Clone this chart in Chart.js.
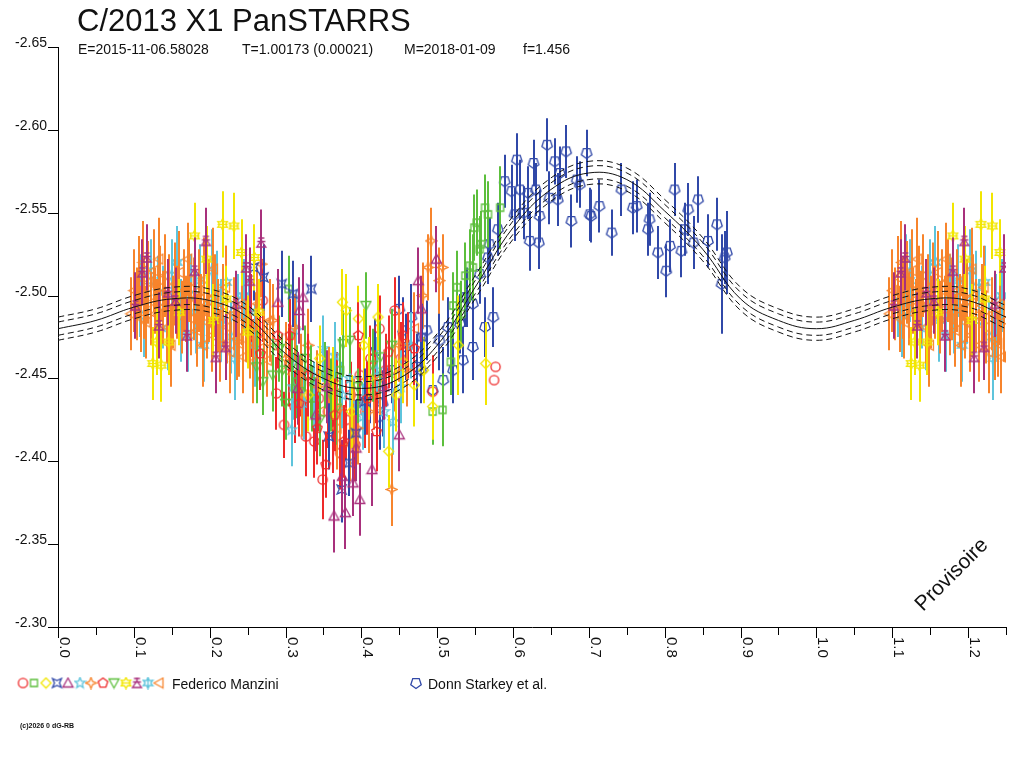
<!DOCTYPE html>
<html><head><meta charset="utf-8">
<script src="https://cdn.jsdelivr.net/npm/chart.js@4.4.1/dist/chart.umd.min.js"></script>
<style>html,body{margin:0;padding:0;background:#fff;}canvas{display:block;}</style>
</head><body><canvas id="c" width="1024" height="768"></canvas>
<script>
// ---------- DATA ----------
const titleText = 'C/2013 X1 PanSTARRS';
const subtitleParts = ['E=2015-11-06.58028', 'T=1.00173 (0.00021)', 'M=2018-01-09', 'f=1.456'];
const legendNames = ['Federico Manzini', 'Donn Starkey et al.'];
const copyrightText = '(c)2026 0 dG-RB';
const stampText = 'Provisoire';

const yTickValues = [-2.65, -2.60, -2.55, -2.50, -2.45, -2.40, -2.35, -2.30];
const yTickLabels = ['-2.65', '-2.60', '-2.55', '-2.50', '-2.45', '-2.40', '-2.35', '-2.30'];
const xTickValues = [0, 0.05, 0.1, 0.15, 0.2, 0.25, 0.3, 0.35, 0.4, 0.45, 0.5, 0.55, 0.6, 0.65, 0.7, 0.75, 0.8, 0.85, 0.9, 0.95, 1.0, 1.05, 1.1, 1.15, 1.2, 1.25];
const xTickLabels = ['0.0', '', '0.1', '', '0.2', '', '0.3', '', '0.4', '', '0.5', '', '0.6', '', '0.7', '', '0.8', '', '0.9', '', '1.0', '', '1.1', '', '1.2', ''];

// fitted curve (phase, magnitude) and its envelopes
const fitPhase = [0, 0.05, 0.10, 0.15, 0.20, 0.25, 0.30, 0.35, 0.40, 0.45, 0.50, 0.55, 0.60, 0.65, 0.70, 0.75, 0.80, 0.85, 0.90, 0.95, 1.00, 1.05, 1.10, 1.15, 1.20, 1.25];
const fitMag   = [-2.480, -2.485, -2.493, -2.498, -2.497, -2.487, -2.465, -2.450, -2.444, -2.450, -2.470, -2.505, -2.541, -2.564, -2.574, -2.570, -2.551, -2.528, -2.498, -2.485, -2.480, -2.485, -2.493, -2.498, -2.497, -2.487];
const fitInnerUp = [-2.484, -2.489, -2.497, -2.502, -2.501, -2.491, -2.469, -2.454, -2.448, -2.454, -2.474, -2.509, -2.545, -2.568, -2.578, -2.574, -2.555, -2.532, -2.502, -2.489, -2.484, -2.489, -2.497, -2.502, -2.501, -2.491];
const fitInnerLo = [-2.476, -2.481, -2.489, -2.494, -2.493, -2.483, -2.461, -2.446, -2.440, -2.446, -2.466, -2.501, -2.537, -2.560, -2.570, -2.566, -2.547, -2.524, -2.494, -2.481, -2.476, -2.481, -2.489, -2.494, -2.493, -2.483];
const fitOuterUp = [-2.487, -2.492, -2.500, -2.505, -2.504, -2.494, -2.472, -2.457, -2.451, -2.457, -2.477, -2.512, -2.548, -2.571, -2.581, -2.577, -2.558, -2.535, -2.505, -2.492, -2.487, -2.492, -2.500, -2.505, -2.504, -2.494];
const fitOuterLo = [-2.473, -2.478, -2.486, -2.491, -2.490, -2.480, -2.458, -2.443, -2.437, -2.443, -2.463, -2.498, -2.534, -2.557, -2.567, -2.563, -2.544, -2.521, -2.491, -2.478, -2.473, -2.478, -2.486, -2.491, -2.490, -2.480];

// observations: [phase, magnitude, error]
const manziniCircle = [[0.255,-2.488,0.025],[0.262,-2.465,0.022],[0.270,-2.497,0.025],[0.288,-2.441,0.022],[0.298,-2.422,0.020],[0.305,-2.458,0.025],[0.312,-2.433,0.022],[0.320,-2.447,0.020],[0.327,-2.415,0.024],[0.338,-2.412,0.022],[0.344,-2.438,0.020],[0.349,-2.389,0.024],[0.356,-2.430,0.022],[0.362,-2.418,0.025],[0.368,-2.446,0.020],[0.372,-2.405,0.022],[0.380,-2.425,0.024],[0.386,-2.440,0.020],[0.392,-2.410,0.022],[0.398,-2.452,0.020],[0.405,-2.430,0.022],[0.412,-2.462,0.020],[0.418,-2.445,0.022],[0.424,-2.480,0.020],[0.432,-2.455,0.022],[0.444,-2.491,0.020],[0.452,-2.462,0.022],[0.462,-2.470,0.020],[0.494,-2.442,0.022],[0.577,-2.457,0],[0.575,-2.449,0]];
const manziniSquare = [[0.304,-2.504,0.020],[0.315,-2.448,0.022],[0.335,-2.438,0.020],[0.372,-2.455,0.020],[0.494,-2.430,0.020],[0.507,-2.431,0.022],[0.518,-2.460,0.020],[0.521,-2.494,0.020],[0.526,-2.505,0.022],[0.532,-2.489,0.020],[0.537,-2.512,0.020],[0.543,-2.518,0.022],[0.547,-2.517,0.020],[0.549,-2.541,0.020],[0.552,-2.544,0.020],[0.556,-2.528,0.020],[0.558,-2.531,0.020],[0.563,-2.553,0.020],[0.567,-2.549,0.020],[0.583,-2.553,0.025]];
const manziniDiamond = [[0.330,-2.440,0.022],[0.345,-2.462,0.020],[0.362,-2.447,0.022],[0.375,-2.496,0.020],[0.380,-2.491,0.022],[0.387,-2.430,0.022],[0.396,-2.486,0.020],[0.403,-2.470,0.022],[0.410,-2.450,0.025],[0.422,-2.487,0.020],[0.436,-2.406,0.022],[0.446,-2.440,0.022],[0.455,-2.460,0.025],[0.470,-2.446,0.025],[0.482,-2.455,0.020],[0.494,-2.433,0.020],[0.528,-2.470,0.030],[0.564,-2.459,0.025]];
const manziniQuad = [[0.258,-2.517,0.020],[0.271,-2.511,0.020],[0.295,-2.507,0.020],[0.310,-2.501,0.020],[0.334,-2.504,0.020],[0.357,-2.415,0.020],[0.374,-2.383,0.020],[0.384,-2.399,0.020],[0.393,-2.417,0.020],[0.405,-2.436,0.020],[0.480,-2.475,0.020]];
const manziniTriangle = [[0.290,-2.496,0.020],[0.316,-2.444,0.022],[0.318,-2.491,0.020],[0.323,-2.499,0.020],[0.340,-2.428,0.022],[0.355,-2.445,0.022],[0.364,-2.367,0.022],[0.375,-2.391,0.022],[0.379,-2.369,0.022],[0.389,-2.387,0.020],[0.393,-2.408,0.020],[0.398,-2.377,0.022],[0.414,-2.395,0.022],[0.430,-2.445,0.020],[0.450,-2.416,0.022],[0.475,-2.509,0.020],[0.479,-2.492,0.020],[0.499,-2.522,0.020]];
const manziniStar = [[0.308,-2.419,0.022],[0.310,-2.445,0.020],[0.314,-2.479,0.020],[0.325,-2.435,0.022],[0.330,-2.455,0.022],[0.338,-2.440,0.020],[0.345,-2.452,0.020],[0.350,-2.468,0.020],[0.365,-2.464,0.020],[0.375,-2.440,0.020],[0.385,-2.450,0.020],[0.395,-2.435,0.022],[0.402,-2.427,0.020],[0.420,-2.455,0.020],[0.430,-2.430,0.022],[0.442,-2.424,0.020],[0.452,-2.445,0.022],[0.465,-2.470,0.020]];
const manziniSpark = [[0.268,-2.519,0.020],[0.283,-2.485,0.022],[0.300,-2.462,0.022],[0.312,-2.481,0.020],[0.320,-2.455,0.022],[0.330,-2.470,0.022],[0.342,-2.445,0.022],[0.357,-2.447,0.022],[0.372,-2.432,0.022],[0.385,-2.410,0.022],[0.395,-2.420,0.022],[0.410,-2.430,0.025],[0.425,-2.450,0.022],[0.440,-2.383,0.022],[0.450,-2.470,0.022],[0.460,-2.455,0.022],[0.481,-2.500,0.020],[0.488,-2.517,0.020],[0.492,-2.533,0.020],[0.503,-2.509,0.020],[0.507,-2.517,0.020]];
const manziniPentagon = [[0.267,-2.465,0.022],[0.290,-2.476,0.020],[0.306,-2.476,0.022],[0.318,-2.435,0.020],[0.330,-2.452,0.025],[0.342,-2.420,0.022],[0.353,-2.398,0.020],[0.365,-2.428,0.022],[0.377,-2.412,0.022],[0.396,-2.476,0.020],[0.408,-2.438,0.022],[0.420,-2.418,0.024],[0.436,-2.466,0.022],[0.455,-2.476,0.020],[0.470,-2.468,0.022]];
const manziniInvTri = [[0.262,-2.457,0.022],[0.270,-2.448,0.020],[0.283,-2.452,0.022],[0.292,-2.468,0.020],[0.296,-2.455,0.022],[0.300,-2.435,0.022],[0.309,-2.458,0.020],[0.318,-2.442,0.022],[0.326,-2.462,0.020],[0.333,-2.448,0.022],[0.345,-2.425,0.022],[0.352,-2.452,0.020],[0.360,-2.440,0.022],[0.367,-2.432,0.022],[0.376,-2.471,0.020],[0.385,-2.473,0.020],[0.395,-2.445,0.022],[0.406,-2.494,0.020],[0.415,-2.458,0.022],[0.425,-2.463,0.022],[0.440,-2.470,0.022]];
const manziniHexYellow = [[0.125,-2.459,0.022],[0.130,-2.472,0.020],[0.136,-2.458,0.022],[0.146,-2.472,0.020],[0.160,-2.490,0.020],[0.180,-2.536,0.020],[0.196,-2.522,0.020],[0.205,-2.485,0.022],[0.217,-2.543,0.020],[0.222,-2.498,0.020],[0.232,-2.542,0.020],[0.242,-2.526,0.020],[0.250,-2.478,0.022],[0.259,-2.523,0.020],[0.265,-2.490,0.020]];
const manziniBell = [[0.102,-2.494,0.020],[0.111,-2.514,0.020],[0.117,-2.523,0.020],[0.133,-2.482,0.020],[0.145,-2.502,0.020],[0.155,-2.497,0.020],[0.170,-2.476,0.022],[0.180,-2.515,0.020],[0.195,-2.533,0.020],[0.208,-2.463,0.022],[0.221,-2.469,0.020],[0.235,-2.495,0.020],[0.248,-2.517,0.020],[0.253,-2.509,0.020],[0.268,-2.532,0.020]];
const manziniHexCyan = [[0.108,-2.500,0.025],[0.113,-2.488,0.025],[0.118,-2.515,0.022],[0.123,-2.509,0.025],[0.132,-2.502,0.022],[0.139,-2.493,0.025],[0.145,-2.480,0.025],[0.150,-2.512,0.022],[0.157,-2.520,0.022],[0.162,-2.485,0.025],[0.171,-2.476,0.022],[0.176,-2.500,0.025],[0.182,-2.490,0.025],[0.187,-2.509,0.022],[0.192,-2.470,0.022],[0.198,-2.496,0.025],[0.203,-2.515,0.025],[0.210,-2.505,0.022],[0.215,-2.485,0.025],[0.222,-2.508,0.022],[0.228,-2.475,0.022],[0.233,-2.462,0.025],[0.237,-2.488,0.025],[0.245,-2.500,0.022],[0.252,-2.490,0.022],[0.260,-2.470,0.025]];
const manziniLeftTri = [[0.096,-2.489,0.022],[0.100,-2.503,0.025],[0.104,-2.495,0.022],[0.107,-2.511,0.025],[0.110,-2.486,0.020],[0.112,-2.520,0.025],[0.114,-2.499,0.025],[0.116,-2.484,0.022],[0.119,-2.508,0.025],[0.122,-2.492,0.022],[0.126,-2.515,0.025],[0.128,-2.497,0.020],[0.131,-2.488,0.022],[0.133,-2.522,0.025],[0.135,-2.505,0.025],[0.138,-2.493,0.022],[0.141,-2.512,0.025],[0.144,-2.481,0.022],[0.147,-2.500,0.025],[0.149,-2.470,0.025],[0.151,-2.490,0.022],[0.154,-2.507,0.025],[0.157,-2.496,0.022],[0.160,-2.514,0.025],[0.163,-2.487,0.022],[0.166,-2.503,0.025],[0.169,-2.492,0.020],[0.171,-2.522,0.022],[0.173,-2.509,0.025],[0.176,-2.486,0.022],[0.179,-2.498,0.025],[0.183,-2.479,0.022],[0.186,-2.503,0.025],[0.189,-2.491,0.022],[0.191,-2.470,0.025],[0.193,-2.510,0.025],[0.196,-2.484,0.022],[0.199,-2.497,0.025],[0.203,-2.476,0.022],[0.205,-2.516,0.025],[0.207,-2.500,0.025],[0.211,-2.488,0.022],[0.214,-2.470,0.022],[0.218,-2.494,0.025],[0.221,-2.505,0.025],[0.223,-2.481,0.022],[0.227,-2.466,0.025],[0.232,-2.489,0.022],[0.236,-2.474,0.025],[0.239,-2.471,0.020],[0.242,-2.495,0.025],[0.244,-2.463,0.022],[0.248,-2.485,0.025],[0.253,-2.472,0.022],[0.257,-2.460,0.025],[0.261,-2.480,0.022],[0.263,-2.495,0.022],[0.266,-2.468,0.022],[0.271,-2.476,0.025],[0.276,-2.461,0.022],[0.279,-2.485,0.025],[0.284,-2.470,0.022],[0.300,-2.455,0.022],[0.322,-2.440,0.025],[0.346,-2.430,0.022],[0.368,-2.420,0.025],[0.390,-2.428,0.022],[0.417,-2.441,0.022],[0.444,-2.452,0.022],[0.470,-2.480,0.022]];
const starkey = [[0.411,-2.443,0.020],[0.418,-2.466,0.020],[0.420,-2.451,0.020],[0.424,-2.427,0.020],[0.428,-2.435,0.020],[0.440,-2.455,0.020],[0.450,-2.492,0.020],[0.455,-2.479,0.020],[0.459,-2.469,0.020],[0.466,-2.487,0.020],[0.473,-2.457,0.020],[0.479,-2.455,0.020],[0.486,-2.479,0.018],[0.494,-2.443,0.020],[0.503,-2.473,0.018],[0.508,-2.449,0.020],[0.514,-2.481,0.018],[0.521,-2.455,0.020],[0.530,-2.483,0.018],[0.534,-2.461,0.020],[0.536,-2.499,0.018],[0.539,-2.499,0.018],[0.547,-2.495,0.020],[0.547,-2.469,0.020],[0.556,-2.513,0.018],[0.563,-2.481,0.018],[0.567,-2.523,0.016],[0.569,-2.531,0.016],[0.574,-2.487,0.018],[0.580,-2.540,0.016],[0.589,-2.569,0.016],[0.598,-2.563,0.016],[0.602,-2.549,0.016],[0.605,-2.582,0.016],[0.609,-2.564,0.018],[0.614,-2.550,0.016],[0.620,-2.562,0.016],[0.622,-2.533,0.018],[0.627,-2.580,0.014],[0.630,-2.564,0.016],[0.634,-2.532,0.016],[0.635,-2.548,0.016],[0.645,-2.591,0.016],[0.648,-2.559,0.016],[0.655,-2.581,0.014],[0.659,-2.558,0.016],[0.662,-2.574,0.016],[0.670,-2.587,0.016],[0.677,-2.545,0.016],[0.684,-2.570,0.014],[0.688,-2.567,0.014],[0.697,-2.586,0.014],[0.701,-2.549,0.016],[0.703,-2.548,0.016],[0.714,-2.554,0.016],[0.730,-2.538,0.014],[0.743,-2.564,0.016],[0.758,-2.553,0.016],[0.763,-2.554,0.016],[0.778,-2.540,0.016],[0.780,-2.546,0.016],[0.791,-2.526,0.016],[0.802,-2.515,0.016],[0.807,-2.530,0.016],[0.813,-2.564,0.016],[0.822,-2.527,0.016],[0.827,-2.540,0.016],[0.831,-2.552,0.016],[0.838,-2.532,0.016],[0.844,-2.558,0.014],[0.857,-2.533,0.016],[0.869,-2.543,0.016],[0.875,-2.507,0.030],[0.879,-2.523,0.016],[0.882,-2.526,0.025]];

// ---------- STYLE ----------
const COL = {red:'#ee2a2a', green:'#5cbf3c', yellow:'#f2e600', blue:'#3048a8', purple:'#a8307c', cyan:'#5ec4dc', orange:'#f7842c'};
const FONT = '"Liberation Sans", Arial, Helvetica, sans-serif';

function shape(kind, color, size) {
  const s = size || 13, c = s / 2;
  const cv = document.createElement('canvas'); cv.width = s; cv.height = s;
  const g = cv.getContext('2d'); g.strokeStyle = color; g.lineWidth = 1.3; g.lineJoin = 'miter';
  const poly = (pts) => { g.beginPath(); pts.forEach((p, i) => i ? g.lineTo(c + p[0], c + p[1]) : g.moveTo(c + p[0], c + p[1])); g.closePath(); g.stroke(); };
  const reg = (n, r, rot) => { const a = []; for (let i = 0; i < n; i++) { const t = rot + i * 2 * Math.PI / n; a.push([r * Math.cos(t), r * Math.sin(t)]); } return a; };
  const star = (n, ro, ri, rot) => { const a = []; for (let i = 0; i < 2 * n; i++) { const r = i % 2 ? ri : ro; const t = rot + i * Math.PI / n; a.push([r * Math.cos(t), r * Math.sin(t)]); } return a; };
  const up = -Math.PI / 2;
  switch (kind) {
    case 'circle': g.beginPath(); g.arc(c, c, 4.6, 0, 2 * Math.PI); g.stroke(); break;
    case 'square': poly([[-3.5,-3.5],[3.5,-3.5],[3.5,3.5],[-3.5,3.5]]); break;
    case 'diamond': poly([[0,-5],[5,0],[0,5],[-5,0]]); break;
    case 'quad': poly([[-4.5,-4.5],[0,-2.5],[4.5,-4.5],[2.5,0],[4.5,4.5],[0,2.5],[-4.5,4.5],[-2.5,0]]); break;
    case 'triangle': poly([[0,-5],[5,4],[-5,4]]); break;
    case 'star5': poly(star(5, 5.5, 2.4, up)); break;
    case 'spark': poly([[0,-5.5],[1.6,-1.6],[5.5,0],[1.6,1.6],[0,5.5],[-1.6,1.6],[-5.5,0],[-1.6,-1.6]]); break;
    case 'pentagon': poly(reg(5, 5, up)); break;
    case 'invtri': poly([[-5,-4],[5,-4],[0,5]]); break;
    case 'hexY': poly(star(6, 5.5, 3, up)); g.beginPath(); g.moveTo(c - 5, c); g.lineTo(c + 5, c); g.stroke(); break;
    case 'bell': poly([[0,-2],[4.5,4.5],[-4.5,4.5]]); g.beginPath(); g.moveTo(c - 3, c - 4.5); g.lineTo(c + 3, c - 4.5); g.moveTo(c, c - 5.5); g.lineTo(c, c - 2); g.moveTo(c - 4, c - 1); g.lineTo(c + 4, c - 1); g.stroke(); break;
    case 'hexC': poly(star(6, 5.5, 2.8, up)); g.beginPath(); g.moveTo(c, c - 5.5); g.lineTo(c, c + 5.5); g.stroke(); break;
    case 'lefttri': poly([[-5,0],[4,-5],[4,5]]); break;
    case 'pentDown': poly(reg(5, 5.5, Math.PI / 2)); break;
  }
  return cv;
}

const series = [
  {arr: manziniCircle,   kind: 'circle',   color: COL.red},
  {arr: manziniSquare,   kind: 'square',   color: COL.green},
  {arr: manziniDiamond,  kind: 'diamond',  color: COL.yellow},
  {arr: manziniQuad,     kind: 'quad',     color: COL.blue},
  {arr: manziniTriangle, kind: 'triangle', color: COL.purple},
  {arr: manziniStar,     kind: 'star5',    color: COL.cyan},
  {arr: manziniSpark,    kind: 'spark',    color: COL.orange},
  {arr: manziniPentagon, kind: 'pentagon', color: COL.red},
  {arr: manziniInvTri,   kind: 'invtri',   color: COL.green},
  {arr: manziniHexYellow,kind: 'hexY',     color: COL.yellow},
  {arr: manziniBell,     kind: 'bell',     color: COL.purple},
  {arr: manziniHexCyan,  kind: 'hexC',     color: COL.cyan},
  {arr: manziniLeftTri,  kind: 'lefttri',  color: COL.orange}
];
const starkeySeries = {arr: starkey, kind: 'pentDown', color: COL.blue};
series.forEach(s => s.img = shape(s.kind, s.color, 13));
starkeySeries.img = shape(starkeySeries.kind, starkeySeries.color, 14);

// phase-folded points; phases below 0.25 are shown again one cycle later
function toPoints(arr) {
  const out = arr.map(([p, m, e]) => ({x: p, y: m, e: e}));
  arr.forEach(([p, m, e]) => { if (p < 0.25) out.push({x: p + 1, y: m, e: e}); });
  return out;
}
function ptsDs(s) {
  return {type: 'scatter', data: toPoints(s.arr), pointStyle: s.img, pointRadius: 5, borderColor: s.color, backgroundColor: s.color, errColor: s.color, showLine: false};
}
function curveDs(vals, dashed) {
  return {type: 'scatter', data: fitPhase.map((p, i) => ({x: p, y: vals[i]})), showLine: true, pointRadius: 0, borderColor: '#111', borderWidth: 1, borderDash: dashed ? [6, 4] : [], tension: 0.4, fill: false};
}

// index 0 is drawn on top
const datasets = [
  curveDs(fitMag, false), curveDs(fitInnerUp, true), curveDs(fitInnerLo, true), curveDs(fitOuterUp, true), curveDs(fitOuterLo, true),
  ptsDs(series[7]), ptsDs(series[10]), ptsDs(series[9]), ptsDs(series[4]), ptsDs(series[3]), ptsDs(series[2]),
  ptsDs(series[1]), ptsDs(series[8]), ptsDs(series[6]), ptsDs(series[5]), ptsDs(series[12]), ptsDs(series[11]),
  ptsDs(series[0]), ptsDs(starkeySeries)
];

// ---------- PLUGINS ----------
const errorBars = {
  id: 'errorBars',
  beforeDatasetDraw(chart, args) {
    const ds = chart.data.datasets[args.index];
    if (!ds.errColor) return;
    const ctx = chart.ctx, xs = chart.scales.x, ys = chart.scales.y, ca = chart.chartArea;
    ctx.save();
    ctx.beginPath(); ctx.rect(ca.left, ca.top, ca.right - ca.left, ca.bottom - ca.top); ctx.clip();
    ctx.strokeStyle = ds.errColor; ctx.lineWidth = 2;
    ds.data.forEach(p => {
      if (!p.e) return;
      const px = Math.round(xs.getPixelForValue(p.x));
      ctx.beginPath(); ctx.moveTo(px, ys.getPixelForValue(p.y - p.e)); ctx.lineTo(px, ys.getPixelForValue(p.y + p.e)); ctx.stroke();
    });
    ctx.restore();
  }
};

const decor = {
  id: 'decor',
  beforeDraw(chart) {
    const ctx = chart.ctx; ctx.save(); ctx.fillStyle = '#fff'; ctx.fillRect(0, 0, chart.width, chart.height); ctx.restore();
  },
  afterDraw(chart) {
    const ctx = chart.ctx, xs = chart.scales.x, ys = chart.scales.y, ca = chart.chartArea;
    ctx.save();
    ctx.strokeStyle = '#000'; ctx.fillStyle = '#111'; ctx.lineWidth = 1;
    // y ticks
    ctx.font = '14px ' + FONT; ctx.textAlign = 'right'; ctx.textBaseline = 'alphabetic';
    yTickValues.forEach((v, i) => {
      const py = Math.round(ys.getPixelForValue(v)) + 0.5;
      ctx.beginPath(); ctx.moveTo(ca.left - 10, py); ctx.lineTo(ca.left, py); ctx.stroke();
      ctx.fillText(yTickLabels[i], ca.left - 11, py - 1);
    });
    // x ticks
    ctx.font = '15px ' + FONT; ctx.textAlign = 'left';
    xTickValues.forEach((v, i) => {
      const px = Math.round(xs.getPixelForValue(v)) + 0.5;
      const major = xTickLabels[i] !== '';
      ctx.beginPath(); ctx.moveTo(px, ca.bottom); ctx.lineTo(px, ca.bottom + (major ? 11 : 8)); ctx.stroke();
      if (major) {
        ctx.save(); ctx.translate(px + 1, ca.bottom + 10); ctx.rotate(Math.PI / 2);
        ctx.fillText(xTickLabels[i], 0, 0); ctx.restore();
      }
    });
    // title and subtitle
    ctx.textAlign = 'left';
    ctx.font = '31px ' + FONT; ctx.fillText(titleText, 77, 31);
    ctx.font = '14px ' + FONT;
    const subX = [78, 242, 404, 523];
    subtitleParts.forEach((t, i) => ctx.fillText(t, subX[i], 54));
    // legend
    const lx = [23, 34, 46, 57, 68, 80, 91, 103, 114, 126, 137, 148, 159];
    series.forEach((s, i) => ctx.drawImage(s.img, lx[i] - s.img.width / 2, 683 - s.img.height / 2));
    ctx.drawImage(starkeySeries.img, 416 - starkeySeries.img.width / 2, 683 - starkeySeries.img.height / 2);
    ctx.font = '14px ' + FONT;
    ctx.fillText(legendNames[0], 172, 689);
    ctx.fillText(legendNames[1], 428, 689);
    // copyright
    ctx.font = 'bold 7px ' + FONT; ctx.fillText(copyrightText, 20, 728);
    // stamp
    ctx.save(); ctx.translate(923, 612); ctx.rotate(-Math.PI / 4);
    ctx.font = '21px ' + FONT; ctx.fillText(stampText, 0, 0); ctx.restore();
    ctx.restore();
  }
};

new Chart(document.getElementById('c'), {
  type: 'scatter',
  data: {datasets: datasets},
  options: {
    responsive: false, animation: false, devicePixelRatio: 1, events: [],
    layout: {padding: {top: 47, right: 18, left: 0, bottom: 0}},
    plugins: {legend: {display: false}, tooltip: {enabled: false}, title: {display: false}},
    scales: {
      x: {type: 'linear', min: 0, max: 1.25, grid: {display: false}, ticks: {display: false},
          border: {display: true, color: '#000', width: 1}, afterFit(s) { s.height = 141; }},
      y: {type: 'linear', min: -2.65, max: -2.30, reverse: true, grid: {display: false}, ticks: {display: false},
          border: {display: true, color: '#000', width: 1}, afterFit(s) { s.width = 58; }}
    }
  },
  plugins: [errorBars, decor]
});
</script></body></html>
